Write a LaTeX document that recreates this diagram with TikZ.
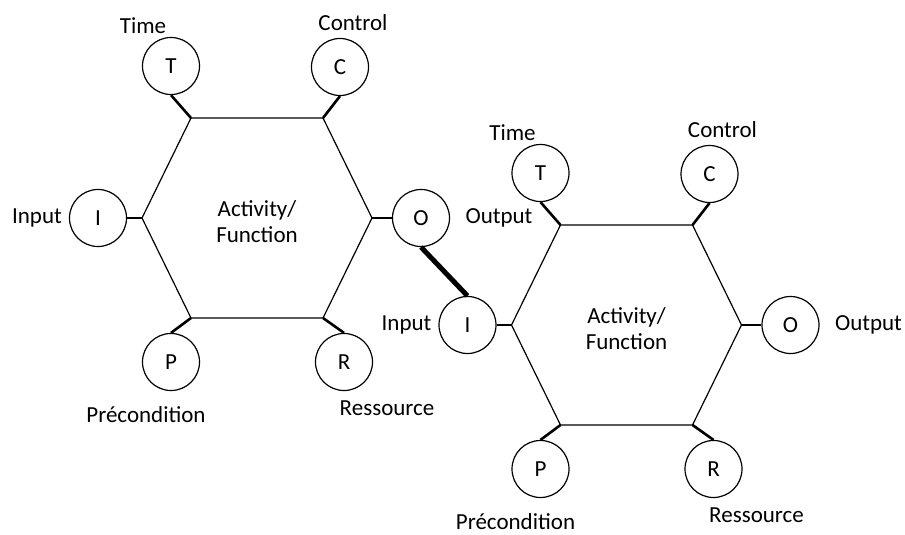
\documentclass[tikz,border=0pt]{standalone}
\usepackage{fontspec}
\setmainfont{Carlito}
\tikzset{
  hexedge/.style={line width=1.2pt, line join=miter},
  stubline/.style={line width=2.6pt},
  port/.style={circle, draw, line width=1.2pt, minimum size=57pt, inner sep=0pt, font=\fontsize{23}{26}\selectfont},
  lbl/.style={font=\fontsize{23}{26}\selectfont, inner sep=0pt},
  linkline/.style={line width=5pt},
  unit/.pic={
    \coordinate (-tl) at (-66,-100);
    \coordinate (-tr) at (66,-100);
    \coordinate (-r) at (115,0);
    \coordinate (-br) at (66,100);
    \coordinate (-bl) at (-66,100);
    \coordinate (-l) at (-115,0);
    \draw[hexedge] (-tl) -- (-tr) -- (-r) -- (-br) -- (-bl) -- (-l) -- cycle;
    \node[lbl, align=center] (-A) at (0,4) {Activity/\\Function};
    \node[port] (-T) at (-86,-152) {T};
    \node[port] (-C) at (83,-151) {C};
    \node[port] (-I) at (-159,0) {I};
    \node[port] (-O) at (164,0) {O};
    \node[port] (-P) at (-86,144) {P};
    \node[port] (-R) at (87,144) {R};
    \draw[stubline] (-tl) -- (-T.south);
    \draw[stubline] (-tr) -- (-C.south);
    \draw[stubline] (-l) -- (-I.east);
    \draw[stubline] (-r) -- (-O.west);
    \draw[stubline] (-bl) -- (-P.north);
    \draw[stubline] (-br) -- (-R.north);
    \node[lbl] (-Tl) at (-114,-192) {Time};
    \node[lbl] (-Cl) at (96,-195) {Control};
    \node[lbl] (-Il) at (-220,0) {Input};
    \node[lbl] (-Ol) at (242,0) {Output};
    \node[lbl] (-Pl) at (-111,197) {Précondition};
    \node[lbl] (-Rl) at (130,190) {Ressource};
  }
}
\begin{document}
\begin{tikzpicture}[x=1pt, y=-1pt]
  \useasboundingbox (0,0) rectangle (905,535);
  \pic (u1) at (257,218) {unit};
  \pic (u2) at (626.5,325) {unit};
  \draw[linkline] (u1-O.south) -- (u2-I.north);
\end{tikzpicture}
\end{document}
